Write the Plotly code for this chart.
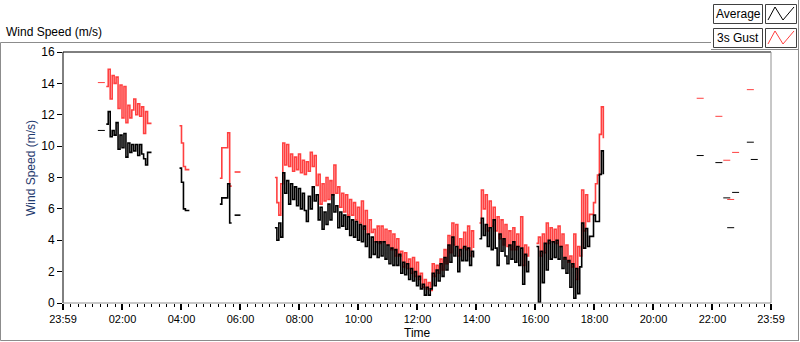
import plotly.graph_objects as go
from datetime import datetime, timedelta

DAY = datetime(2024, 5, 2)
STEP_MINUTES = 4

# ---- data: segments sampled every 4 minutes, start times (HH:MM) ----
segment_starts = ["01:27", "03:56", "05:18", "05:48", "07:10", "14:06", "16:02"]

avg_a = [11.4, 12.2, 10.6, 11.0, 10.7, 11.5, 9.8, 10.7, 9.9, 10.8, 9.3, 10.2,
         9.6, 10.1, 9.7, 10.1, 9.4, 10.1, 9.5, 9.2, 8.8, 9.6, 9.6, 9.6]
gust_a = [13.8, 14.9, 13.0, 14.5, 14.0, 14.4, 12.4, 13.9, 11.8, 13.8, 11.5, 12.6,
          11.8, 12.3, 13.0, 12.0, 12.7, 11.9, 12.5, 10.8, 12.2, 11.45, 11.45, 11.45]

avg_b = [8.6, 7.7, 6.0, 5.9, 5.9, 5.9]
gust_b = [11.3, 10.2, 8.7, 8.5, 8.5, 8.5]

avg_c = [6.3, 6.7, 6.7, 6.7, 7.6, 5.1, 5.1]
gust_c = [7.95, 9.9, 9.9, 9.9, 10.85, 7.45, 7.45]

avg_d = [5.6, 5.6, 5.6, 5.6]
gust_d = [8.35, 8.35, 8.35, 8.35]

avg_m1 = [4.8, 4.0, 5.1, 4.2, 8.3, 7.0, 7.8, 6.3, 7.6, 6.6,
          7.4, 6.2, 7.3, 6.0, 7.0, 5.9, 5.2, 6.8, 6.0, 7.4,
          6.5, 6.9, 5.3, 6.1, 4.7, 5.8, 5.0, 6.3, 5.3, 6.9,
          5.8, 6.2, 4.8, 5.8, 4.9, 5.6, 4.7, 5.5, 4.3, 5.3,
          4.2, 5.2, 4.0, 5.0, 3.9, 4.9, 3.6, 4.4, 2.9, 4.2,
          3.1, 3.9, 2.9, 3.9, 3.0, 3.9, 2.8, 3.7, 2.5, 3.5,
          2.4, 3.4, 2.4, 3.1, 1.9, 2.6, 1.8, 2.5, 1.5, 2.2,
          1.4, 2.0, 1.1, 1.7, 0.9, 1.2, 0.5, 1.0, 0.5, 0.9,
          1.9, 1.1, 2.1, 1.4, 2.5, 1.7, 2.9, 2.1, 3.7, 2.6,
          4.2, 3.0, 3.6, 2.0, 3.4, 2.7, 3.6, 2.7, 3.5, 2.4,
          3.3, 2.9]
gust_m1 = [8.0, 6.4, 5.6, 7.6, 10.2, 8.8, 10.1, 8.7, 9.5, 8.4,
           9.3, 8.5, 9.5, 8.3, 9.1, 8.2, 9.0, 8.4, 9.6, 8.7,
           9.4, 7.5, 8.2, 6.3, 7.6, 6.5, 8.0, 6.6, 7.8, 6.9,
           8.8, 7.0, 7.4, 6.1, 7.0, 5.8, 6.9, 5.6, 6.6, 5.6,
           6.4, 5.3, 6.1, 5.1, 6.5, 4.7, 5.9, 4.4, 5.3, 4.5,
           4.7, 3.9, 4.9, 3.8, 4.9, 3.9, 4.7, 3.7, 4.6, 3.4,
           4.4, 3.0, 4.1, 3.0, 3.3, 2.3, 3.2, 2.2, 2.8, 1.9,
           2.9, 1.7, 2.6, 1.5, 1.9, 1.0, 1.5, 0.9, 1.3, 0.8,
           2.5, 1.7, 2.4, 1.9, 2.8, 2.1, 3.4, 2.5, 4.3, 3.2,
           5.1, 3.7, 5.0, 3.0, 4.1, 3.5, 4.5, 3.4, 4.9, 3.0,
           4.6, 3.5]

avg_m2 = [4.1, 5.4, 4.3, 5.0, 3.6, 4.8, 3.4, 5.3, 3.5, 2.4,
          4.4, 3.3, 4.1, 3.0, 2.5, 3.7, 2.8, 3.9, 2.6, 3.6,
          2.4, 3.5, 1.2, 3.1, 2.0, 2.7]
gust_m2 = [5.1, 7.2, 6.0, 6.9, 4.6, 6.5, 4.9, 6.1, 4.6, 5.5,
           4.1, 5.3, 3.7, 5.0, 3.6, 4.6, 3.4, 4.8, 3.4, 4.4,
           3.6, 5.5, 2.4, 3.7, 3.0, 3.6]

avg_m3 = [3.6, 0.05, 3.3, 1.3, 3.8, 2.1, 4.0, 2.8, 3.9, 2.9,
          4.0, 2.8, 3.6, 2.2, 2.9, 1.9, 2.7, 1.0, 2.5, 0.3,
          2.2, 0.6, 2.3, 5.1, 3.5, 4.75, 3.6, 4.25, 4.25, 5.6,
          5.2, 5.2, 8.2, 9.7, 8.2]
gust_m3 = [3.8, 4.2, 3.0, 4.4, 3.2, 5.1, 3.8, 4.8, 3.9, 4.7,
           3.8, 4.9, 3.6, 4.4, 2.8, 3.7, 2.6, 3.0, 2.3, 4.4,
           1.5, 3.6, 3.0, 7.2, 4.6, 6.9, 5.2, 5.65, 5.65, 6.4,
           7.6, 8.15, 10.75, 12.5, 10.5]

avg_segments = [avg_a, avg_b, avg_c, avg_d, avg_m1, avg_m2, avg_m3]
gust_segments = [gust_a, gust_b, gust_c, gust_d, gust_m1, gust_m2, gust_m3]

# isolated readings
iso_times = ["01:17", "21:35", "22:13", "22:29", "22:37", "22:47", "23:17", "23:25"]
iso_avg = [11.0, 9.4, 8.95, 6.7, 4.8, 7.05, 10.25, 9.15]
iso_gust = [14.05, 13.05, 11.9, 9.1, 6.6, 9.6, 13.6, None]

x_tick_labels = ["23:59", "02:00", "04:00", "06:00", "08:00", "10:00", "12:00",
                 "14:00", "16:00", "18:00", "20:00", "22:00", "23:59"]
y_ticks = [0, 2, 4, 6, 8, 10, 12, 14, 16]


def t(hhmm):
    h, m = map(int, hhmm.split(":"))
    return DAY + timedelta(hours=h, minutes=m)


def build(series_list):
    xs, ys = [], []
    for start, vals in zip(segment_starts, series_list):
        t0 = t(start)
        for i, v in enumerate(vals):
            xs.append(t0 + timedelta(minutes=STEP_MINUTES * i))
            ys.append(v)
        xs.append(None)
        ys.append(None)
    return xs, ys


RED = "#FF4040"
BLACK = "#000000"

fig = go.Figure()
gx, gy = build(gust_segments)
ax_, ay = build(avg_segments)
fig.add_trace(go.Scatter(x=gx, y=gy, mode="lines", line=dict(color=RED, width=1.6, shape="hv"),
                         connectgaps=False, name="3s Gust"))
fig.add_trace(go.Scatter(x=ax_, y=ay, mode="lines", line=dict(color=BLACK, width=1.6, shape="hv"),
                         connectgaps=False, name="Average"))
iso_x = [t(s) for s in iso_times]
fig.add_trace(go.Scatter(x=iso_x, y=iso_gust, mode="markers",
                         marker=dict(symbol="line-ew", size=5, line=dict(color=RED, width=1)),
                         name="3s Gust"))
fig.add_trace(go.Scatter(x=iso_x, y=iso_avg, mode="markers",
                         marker=dict(symbol="line-ew", size=5, line=dict(color=BLACK, width=1)),
                         name="Average"))

# ---- layout ----
L, R, T, B = 63, 771, 52, 303
W, H = R - L, B - T


def px(x):
    return (x - L) / W


def py(y):
    return (B - y) / H


FONT = "Liberation Sans"
shapes = []


def line(x0, y0, x1, y1, color, width=1):
    shapes.append(dict(type="line", xref="paper", yref="paper",
                       x0=px(x0), y0=py(y0), x1=px(x1), y1=py(y1),
                       line=dict(color=color, width=width)))


GRAY = "#8C8C8C"
# outer panel frame
line(0.5, 42.5, 711, 42.5, GRAY)
line(0.5, 42.5, 0.5, 340.5, GRAY)
line(0.5, 340.5, 799, 340.5, GRAY)
line(798.5, 0, 798.5, 340.5, GRAY)
line(711, 49.5, 799, 49.5, GRAY)
# plot frame
line(L, T, R, T, BLACK)
line(L, T, L, B, BLACK)
line(R, T, R, B, "#909090")
line(L, B, R, B, "#909090")

# legend boxes
annotations = []
for (ytop, label, col) in [(4, "Average", BLACK), (28, "3s Gust", RED)]:
    ybot = ytop + 19
    shapes.append(dict(type="rect", xref="paper", yref="paper",
                       x0=px(713.5), x1=px(762.5), y0=py(ytop + 0.5), y1=py(ybot + 0.5),
                       line=dict(color="#404040", width=1), fillcolor="white"))
    shapes.append(dict(type="rect", xref="paper", yref="paper",
                       x0=px(765.5), x1=px(796.5), y0=py(ytop + 0.5), y1=py(ybot + 0.5),
                       line=dict(color="#404040", width=1), fillcolor="white"))
    pts = [(768, ybot - 3), (775, ytop + 3), (783, ybot - 3), (794, ytop + 3)]
    path = "M " + " L ".join(f"{px(a):.5f},{py(b):.5f}" for a, b in pts)
    shapes.append(dict(type="path", xref="paper", yref="paper", path=path,
                       line=dict(color=col, width=1)))
    annotations.append(dict(text=label, xref="paper", yref="paper", x=px(738), y=py(ytop + 10),
                            xanchor="center", yanchor="middle", showarrow=False,
                            font=dict(family=FONT, size=12, color="black")))

annotations.append(dict(text="Wind Speed (m/s)", xref="paper", yref="paper", x=px(4), y=py(32),
                        xanchor="left", yanchor="middle", showarrow=False,
                        font=dict(family=FONT, size=12, color="black")))
annotations.append(dict(text="Wind Speed (m/s)", xref="paper", yref="paper", x=px(31), y=py(168),
                        xanchor="center", yanchor="middle", showarrow=False, textangle=-90,
                        font=dict(family=FONT, size=12, color="#1F3A6E")))
annotations.append(dict(text="Time", xref="paper", yref="paper", x=px(417), y=py(333),
                        xanchor="center", yanchor="middle", showarrow=False,
                        font=dict(family=FONT, size=12, color="black")))

x_start = DAY - timedelta(minutes=1)
x_end = DAY + timedelta(hours=23, minutes=59)
tickvals = [x_start] + [DAY + timedelta(hours=2 * k) for k in range(1, 12)] + [x_end]

fig.update_layout(
    width=800, height=342,
    margin=dict(l=L, r=800 - R, t=T, b=342 - B, autoexpand=False),
    paper_bgcolor="white", plot_bgcolor="white",
    showlegend=False,
    template="none",
    shapes=shapes,
    annotations=annotations,
    xaxis=dict(type="date", range=[x_start, x_end], tickmode="array", tickvals=tickvals,
               ticktext=x_tick_labels, ticks="outside", ticklen=6, tickwidth=2, tickcolor="black",
               showgrid=False, zeroline=False, showline=False,
               tickfont=dict(family=FONT, size=11, color="black"),
               minor=dict(ticks="outside", ticklen=3, tickwidth=1, tickcolor="black",
                          dtick=15 * 60 * 1000, tick0=DAY, showgrid=False)),
    yaxis=dict(range=[0, 16], tickmode="array", tickvals=y_ticks,
               ticktext=[str(v) for v in y_ticks], ticks="outside", ticklen=5, tickwidth=1,
               tickcolor="black", showgrid=False, zeroline=False, showline=False,
               tickfont=dict(family=FONT, size=12, color="black")),
)

post = "document.body.style.margin='0';document.body.style.overflow='hidden';"
fig.write_html("out.html", post_script=post, config={"displayModeBar": False})
